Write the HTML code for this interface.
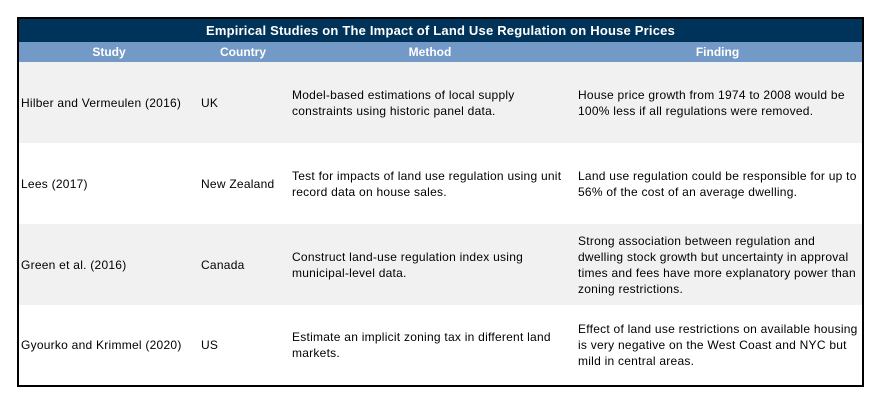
<!DOCTYPE html>
<html><head><meta charset="utf-8"><style>
body{margin:0;width:887px;height:408px;background:#fff;position:relative;font-family:"Liberation Sans",Arial,sans-serif;overflow:hidden}
#box{position:absolute;left:17px;top:17px;width:843px;height:366px;border:2px solid #000;}
.title{position:absolute;left:0;top:0;width:843px;height:23px;background:#003359;color:#fff;font-weight:bold;font-size:13px;text-align:center;line-height:24px;letter-spacing:0.2px}
.hdr{position:absolute;left:0;top:23px;width:843px;height:20px;background:#7399c6;color:#fff;font-weight:bold;font-size:12px;line-height:20px}
.hdr div{position:absolute;top:0;text-align:center}
.row{position:absolute;left:0;width:843px;height:81px}
.cell{position:absolute;top:0;height:100%;display:flex;align-items:center;font-size:12px;line-height:16px;color:#000;letter-spacing:0.25px;white-space:nowrap}
.c1{left:2px;width:178px}.c2{left:182px;width:88px}.c3{left:273px;width:282px}.c4{left:559px;width:282px}
</style></head><body>
<div id="box">
<div class="title">Empirical Studies on The Impact of Land Use Regulation on House Prices</div>
<div class="hdr">
<div style="left:0;width:180px">Study</div>
<div style="left:180px;width:88px">Country</div>
<div style="left:268px;width:286px">Method</div>
<div style="left:554px;width:289px">Finding</div>
</div>
<div class="row" style="top:43px;background:#f1f1f1">
<div class="cell c1">Hilber and Vermeulen (2016)</div>
<div class="cell c2">UK</div>
<div class="cell c3">Model-based estimations of local supply<br>constraints using historic panel data.</div>
<div class="cell c4">House price growth from 1974 to 2008 would be<br>100% less if all regulations were removed.</div>
</div>
<div class="row" style="top:124px;background:#fff">
<div class="cell c1">Lees (2017)</div>
<div class="cell c2">New Zealand</div>
<div class="cell c3">Test for impacts of land use regulation using unit<br>record data on house sales.</div>
<div class="cell c4">Land use regulation could be responsible for up to<br>56% of the cost of an average dwelling.</div>
</div>
<div class="row" style="top:205px;background:#f1f1f1">
<div class="cell c1">Green et al. (2016)</div>
<div class="cell c2">Canada</div>
<div class="cell c3">Construct land-use regulation index using<br>municipal-level data.</div>
<div class="cell c4">Strong association between regulation and<br>dwelling stock growth but uncertainty in approval<br>times and fees have more explanatory power than<br>zoning restrictions.</div>
</div>
<div class="row" style="top:286px;height:80px;background:#fff">
<div class="cell c1">Gyourko and Krimmel (2020)</div>
<div class="cell c2">US</div>
<div class="cell c3">Estimate an implicit zoning tax in different land<br>markets.</div>
<div class="cell c4">Effect of land use restrictions on available housing<br>is very negative on the West Coast and NYC but<br>mild in central areas.</div>
</div>
</div>
</body></html>
